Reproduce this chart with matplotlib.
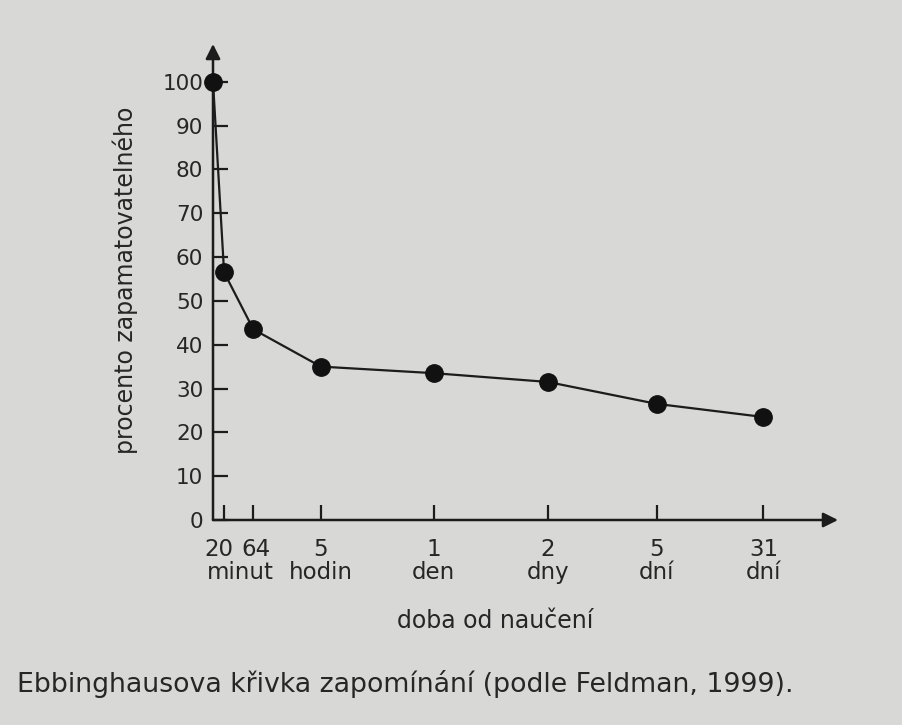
import numpy as np
import matplotlib.pyplot as plt
import matplotlib.transforms as mtransforms

# data: time since learning (minutes) and retention (%)
minutes = [0, 20, 64, 300, 1440, 2880, 7200, 44640]
retention = [100, 56.5, 43.5, 35, 33.5, 31.5, 26.5, 23.5]

tick_minutes = [20, 64, 300, 1440, 2880, 7200, 44640]
tick_numbers = ['20', '64', '5', '1', '2', '5', '31']
tick_units = ['', '', 'hodin', 'den', 'dny', 'dní', 'dní']
y_ticks = list(range(0, 101, 10))

# schematic (non-linear) time axis of the book figure
axis_min = np.array([0, 20, 64, 300, 1440, 2880, 7200, 44640, 1e6])
axis_pos = np.array([5, 16, 45, 112, 224, 337, 445, 551, 625])


def fwd(x):
    return np.interp(x, axis_min, axis_pos)


def inv(p):
    return np.interp(p, axis_pos, axis_min)


plt.rcParams['font.family'] = ['DejaVu Sans']
ink = '#1c1c1c'
txt = '#262626'
bg = '#d8d8d6'
tick_fs = 16.5

fig = plt.figure(figsize=(9.02, 7.25), dpi=100, facecolor=bg)
ax = fig.add_axes([213 / 902, 1 - 520 / 725, (838 - 213) / 902, (520 - 44) / 725])
ax.set_facecolor(bg)
ax.set_xscale('function', functions=(fwd, inv))
ax.set_xlim(0, 1e6)
ax.set_ylim(0, 108.6)

for s in ax.spines.values():
    s.set_visible(False)

# axes with arrows
arrow = dict(arrowstyle='-|>', color=ink, lw=1.8, mutation_scale=22, shrinkA=0, shrinkB=0)
ax.annotate('', xy=(1, 0), xytext=(0, 0), xycoords='axes fraction', arrowprops=arrow)
ax.annotate('', xy=(0, 1), xytext=(0, 0), xycoords='axes fraction', arrowprops=arrow)

ax.plot(minutes, retention, color=ink, lw=1.6, marker='o', markersize=12.5,
        markerfacecolor='#111111', markeredgecolor='#111111', clip_on=False, zorder=5)

ax.set_yticks(y_ticks)
ax.set_yticklabels([str(v) for v in y_ticks])
ax.set_xticks(tick_minutes)
ax.set_xticklabels([n if not u else n + '\n' + u for n, u in zip(tick_numbers, tick_units)],
                   linespacing=1.0)
ax.tick_params(axis='both', direction='in', length=11, width=1.6, color=ink, labelcolor=txt)
ax.tick_params(axis='y', pad=7, labelsize=15.5)
ax.tick_params(axis='x', pad=13, labelsize=tick_fs)

# "20" and "64" sit close together: nudge them apart
xlabels = ax.get_xticklabels()
xlabels[0].set_transform(xlabels[0].get_transform() +
                         mtransforms.ScaledTranslation(-5 / 100, 0, fig.dpi_scale_trans))
xlabels[1].set_transform(xlabels[1].get_transform() +
                         mtransforms.ScaledTranslation(3 / 100, 0, fig.dpi_scale_trans))

# shared unit under the 20 and 64 minute ticks, on the second label line
ax.annotate('minut', xy=(27 / 625, 0), xycoords='axes fraction',
            xytext=(0, -13 - 0.99 * tick_fs), textcoords='offset points',
            ha='center', va='top', fontsize=tick_fs, color=txt)

ax.set_ylabel('procento zapamatovatelného', fontsize=17, color=txt, va='center')
ax.yaxis.set_label_coords(-88 / 625, (520 - 280) / 476)
ax.set_xlabel('doba od naučení', fontsize=17, color=txt, va='center')
ax.xaxis.set_label_coords(282 / 625, -(621 - 520) / 476)

fig.text(17 / 902, 1 - 692 / 725, 'Ebbinghausova křivka zapomínání (podle Feldman, 1999).',
         fontsize=19.3, color=txt, va='baseline', ha='left')

fig.savefig('out.png', dpi=100, facecolor=bg)
